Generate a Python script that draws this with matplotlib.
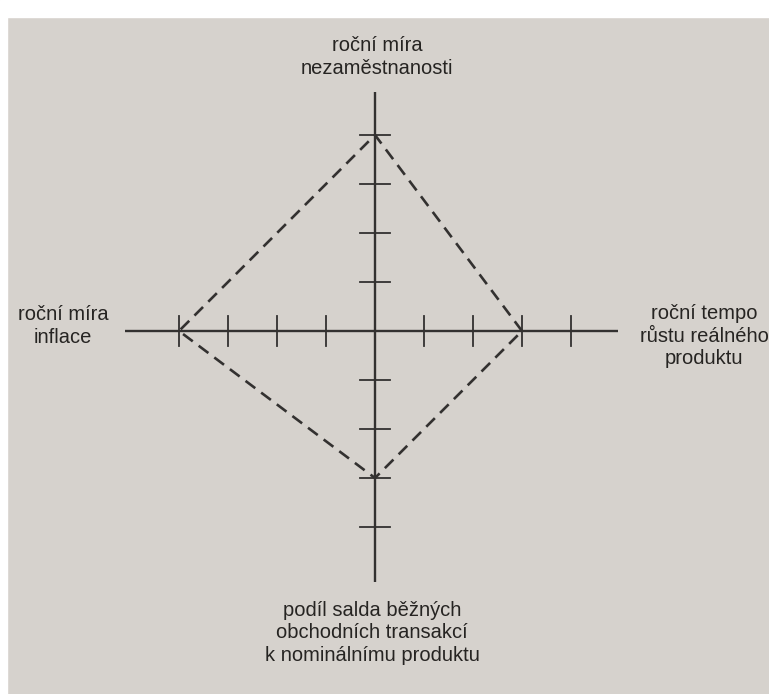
import numpy as np
import matplotlib.pyplot as plt
from matplotlib.patches import Rectangle

plt.rcParams['font.family'] = ['Liberation Sans', 'DejaVu Sans']

# osy magickeho ctyruhelniku: hodnoty vrcholu v dilcich
osy = ['roční tempo\nrůstu reálného\nproduktu',
       'roční míra\nnezaměstnanosti',
       'roční míra\ninflace',
       'podíl salda běžných\nobchodních transakcí\nk nominálnímu produktu']
hodnoty = [3, 4, 4, 3]          # vpravo, nahore, vlevo, dole
smery = [(1, 0), (0, 1), (-1, 0), (0, -1)]
pocet_dilku = 4

barva = '#333130'
pozadi = '#d6d2cd'

fig = plt.figure(figsize=(7.69, 6.94), dpi=100, facecolor=pozadi)
ax = fig.add_axes([0, 0, 1, 1])
u = 49.0
ax.set_xlim(-375 / u, (769 - 375) / u)
ax.set_ylim((331 - 694) / u, 331 / u)
ax.axis('off')
ax.set_facecolor(pozadi)

# bily okraj fotky nahore a vlevo
fig.patches.append(Rectangle((0, 1 - 17 / 694), 1, 17 / 694, transform=fig.transFigure,
                             color='white', zorder=0))
fig.patches.append(Rectangle((0, 0), 7 / 769, 1, transform=fig.transFigure,
                             color='white', zorder=0))

# osy
ax.plot([-5.1, 4.96], [0, 0], color=barva, lw=1.7, solid_capstyle='butt')
ax.plot([0, 0], [-5.12, 4.88], color=barva, lw=1.7, solid_capstyle='butt')

# dilky
d = 0.3
for i in range(1, pocet_dilku + 1):
    ax.plot([i, i], [-d, d], color=barva, lw=1.3)
    ax.plot([-i, -i], [-d, d], color=barva, lw=1.3)
    ax.plot([-d, d], [i, i], color=barva, lw=1.3)
    ax.plot([-d, d], [-i, -i], color=barva, lw=1.3)

# ctyruhelnik
bx = [h * s[0] for h, s in zip(hodnoty, smery)]
by = [h * s[1] for h, s in zip(hodnoty, smery)]
bx.append(bx[0])
by.append(by[0])
ax.plot(bx, by, color=barva, lw=1.9, dashes=(4.6, 2.8))

# popisky os
kw = dict(fontsize=14.5, color='#262422', linespacing=1.25, ha='center')
ax.text(704 / u - 375 / u, (331 - 336) / u, osy[0], va='center', **kw)
ax.text(2 / u, (331 - 57) / u, osy[1], va='center', **kw)
ax.text(63 / u - 375 / u, (331 - 326) / u, osy[2], va='center', **kw)
ax.text(-3 / u, (331 - 633) / u, osy[3], va='center', **kw)

fig.savefig('out.png', dpi=100, facecolor=fig.get_facecolor())
